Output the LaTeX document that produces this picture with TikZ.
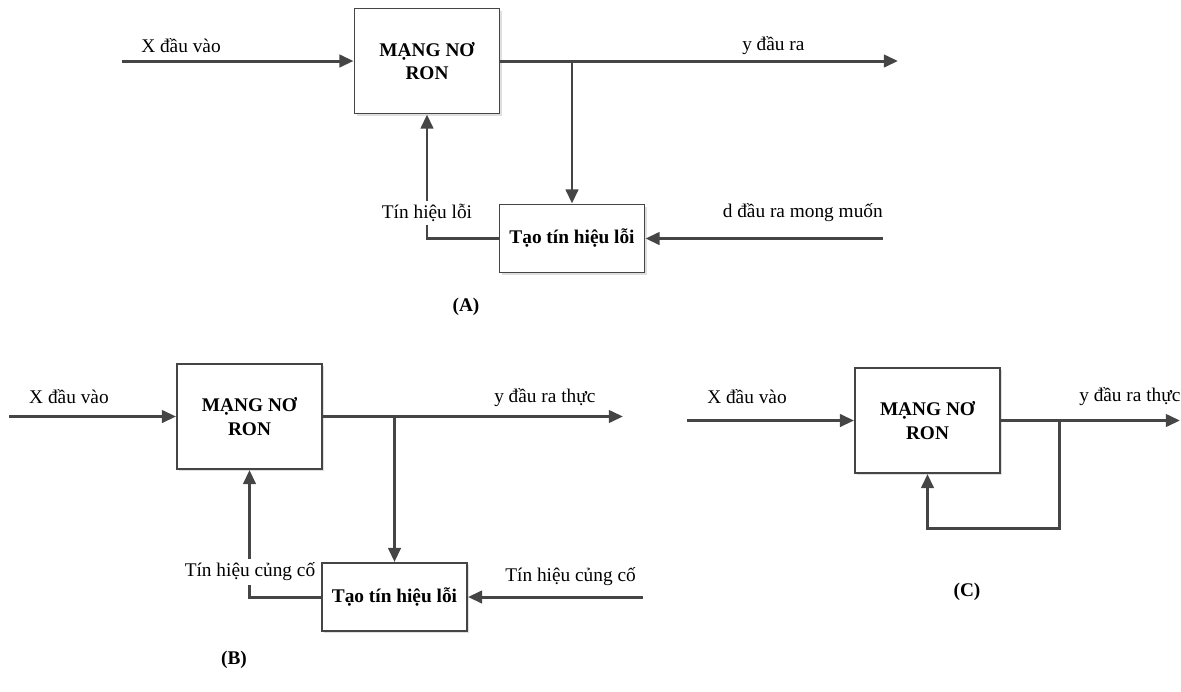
\documentclass[tikz,border=0pt]{standalone}
\usepackage{fontspec}
\setmainfont{Liberation Serif}
\usepackage{xcolor}
\usepackage{tikz}
\usetikzlibrary{arrows.meta}
\usetikzlibrary{shadows}
\definecolor{linegray}{HTML}{454545}
\tikzset{
	net node/.style={rectangle,draw=linegray,line width=1.1pt,fill=white,text=black,
		font=\fontsize{11}{13.5}\selectfont\bfseries,align=center,inner sep=0pt,
		minimum width=2.9cm,minimum height=2.1cm,
		drop shadow={shadow xshift=1.2pt,shadow yshift=-1.2pt,opacity=0.25,fill=gray}},
	err node/.style={net node,minimum height=1.36cm},
	sig label/.style={text=black,font=\fontsize{11}{13}\selectfont,inner sep=1pt},
	cut label/.style={sig label,fill=white,inner sep=2pt},
	cap label/.style={text=black,font=\fontsize{11}{13}\selectfont\bfseries}
}

\begin{document}
\begin{tikzpicture}[->,>={Triangle[length=8pt,width=7pt]},line width=1.7pt,color=linegray,
		x=0.02cm,y=-0.02cm]
	\useasboundingbox (0,0) rectangle (1181,691);
	% (A)
	\node [net node] (netA) at (427,61) {MẠNG NƠ\\RON};
	\node [err node] (errA) at (572,238.5) {Tạo tín hiệu lỗi};
	\coordinate (inA) at (122,61);
	\coordinate (outA) at (898,61);
	\coordinate (brA) at (572,61);
	\coordinate (dA) at (883,238.5);
	\draw (inA) -- (netA.west);
	\draw (netA.east) -- (outA);
	\draw (brA) -- (errA.north);
	\draw (dA) -- (errA.east);
	\draw (errA.west) -| (netA.south);
	\node [sig label,anchor=west] (xA) at (138,46) {X đầu vào};
	\node [sig label,anchor=west] (yA) at (739,46) {y đầu ra};
	\node [cut label] (fbA) at (427,213) {Tín hiệu lỗi};
	\node [sig label,anchor=east] (dlA) at (886,213) {d đầu ra mong muốn};
	\node [cap label] (capA) at (466,307) {(A)};
	% (B)
	\node [net node] (netB) at (249.5,416.5) {MẠNG NƠ\\RON};
	\node [err node] (errB) at (394.5,597) {Tạo tín hiệu lỗi};
	\coordinate (inB) at (9,416.5);
	\coordinate (outB) at (623,416.5);
	\coordinate (brB) at (394.5,416.5);
	\coordinate (dB) at (643,597);
	\draw (inB) -- (netB.west);
	\draw (netB.east) -- (outB);
	\draw (brB) -- (errB.north);
	\draw (dB) -- (errB.east);
	\draw (errB.west) -| (netB.south);
	\node [sig label,anchor=west] (xB) at (26,397) {X đầu vào};
	\node [sig label,anchor=west] (yB) at (491,398) {y đầu ra thực};
	\node [cut label] (fbB) at (250,572) {Tín hiệu củng cố};
	\node [sig label,anchor=east] (dlB) at (639,577) {Tín hiệu củng cố};
	\node [cap label] (capB) at (234,660) {(B)};
	% (C)
	\node [net node] (netC) at (927.5,420.5) {MẠNG NƠ\\RON};
	\coordinate (inC) at (687,420.5);
	\coordinate (outC) at (1180,420.5);
	\coordinate (brC) at (1059,420.5);
	\coordinate (loopC) at (1059,528);
	\draw (inC) -- (netC.west);
	\draw (netC.east) -- (outC);
	\draw (brC) -- (loopC) -| (netC.south);
	\node [sig label,anchor=west] (xC) at (704,397) {X đầu vào};
	\node [sig label,anchor=west] (yC) at (1076,397) {y đầu ra thực};
	\node [cap label] (capC) at (967,592) {(C)};
\end{tikzpicture}
\end{document}
